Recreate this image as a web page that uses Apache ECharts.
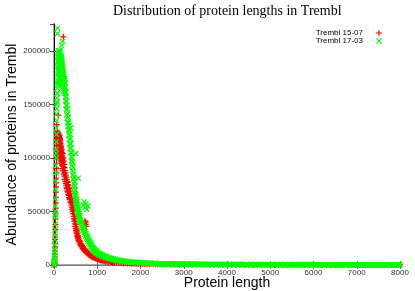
<!DOCTYPE html>
<html><head><meta charset="utf-8">
<script src="https://cdn.jsdelivr.net/npm/echarts@6/dist/echarts.min.js"></script>
<style>html,body{margin:0;padding:0;background:#fff}#c{width:415px;height:291px}</style>
</head><body><div id="c"></div>
<script>
const chartTitle = 'Distribution of protein lengths in Trembl';
const xName = 'Protein length';
const yName = 'Abundance of proteins in Trembl';
const seriesNames = ['Trembl 15-07', 'Trembl 17-03'];
const xTicks = [0, 1000, 2000, 3000, 4000, 5000, 6000, 7000, 8000];
const yTicks = [0, 50000, 100000, 150000, 200000];
const yMax = 225000;

// Trembl 15-07 : [protein length, abundance]
const trembl1507 = [
[1,50],[3,200],[5,500],[7,900],[9,1500],[11,2500],[13,3800],[15,5500],[17,7500],[19,10000],[21,13000],[23,16000],[25,20000],[27,24000],[29,28000],[31,33000],[33,38000],[35,43000],[37,48000],[39,53000],[41,58000],[43,63000],[45,68000],[47,73000],[49,77000],[51,81000],[53,86000],[55,90000],[57,95000],[59,99000],[61,103000],
[63,108000],[65,118000],[67,102000],[69,122000],[71,112000],[73,106000],[75,125000],[77,115000],[79,109000],[81,120000],[83,104000],[85,117000],[87,124000],[89,111000],[91,119000],[93,106000],[95,122000],[97,114000],[99,108000],[101,121000],[103,116000],[105,103000],[107,123000],[109,113000],[111,118000],[113,107000],[115,120000],[117,112000],[119,116000],[121,104000],[123,119000],[125,110000],[127,115000],[129,121000],[131,106000],[133,117000],[135,112000],[137,102000],[139,118000],[141,109000],[143,114000],[145,104000],[147,116000],[149,110000],[151,100000],[153,113000],[155,107000],[157,111000],[159,98000],[161,109000],[163,104000],[165,110000],[167,97000],[169,106000],[171,101000],[173,108000],[175,95000],[177,104000],[179,99000],[181,105000],[183,93000],[185,101000],[187,96000],[189,102000],[191,90000],[193,99000],[195,94000],[197,98000],[199,88000],[201,96000],
[205,104000],[210,92000],[215,100000],[220,88000],[225,97000],[230,85000],[235,94000],[240,83000],[245,91000],[250,80000],[255,88000],[260,78000],[265,86000],[270,76000],[275,84000],[280,74000],[285,82000],[290,72000],[295,80000],[300,71000],[305,78000],[310,69000],[315,77000],[320,68000],[325,75000],[330,66000],[335,74000],[340,65000],[345,72000],[350,63000],[355,71000],[360,62000],[365,69000],[370,61000],[375,67000],[380,59000],[385,66000],[390,58000],[395,64000],[400,56000],[405,62000],[410,54000],[415,60000],[420,52000],[425,58000],[430,50000],[435,56000],[440,48000],[445,53000],[450,45500],[455,51000],[460,43000],[465,48000],[470,41000],[475,45500],[480,38500],[485,43000],[490,36000],[495,40500],[500,34000],[505,38000],[510,32000],[515,35500],[520,30000],[525,33500],[530,28000],[535,31500],[540,26500],[545,29500],[550,25000],[555,27500],[560,23500],[565,26000],[570,22500],[575,24500],[580,21500],[590,23000],[600,19500],[610,21500],[620,18000],[630,19800],[640,16800],[650,18300],[660,15600],[670,17000],[680,14600],[690,15800],[700,13600],[710,14800],[720,12800],[730,13800],[740,12000],[750,13000],[760,11200],[770,12100],[780,10500],[790,11300],[800,9800],[810,10600],[820,9200],[830,9900],[840,8600],[850,9300],[860,8000],[870,8700],[880,7500],[890,8100],[900,7000],[915,7600],[930,6500],[945,7000],[960,6000],[975,6500],[990,5500],[1005,6000],[1020,5100],[1035,5500],[1050,4700],[1065,5100],[1080,4300],[1100,4700],[1120,3900],[1140,4300],[1160,3600],[1180,3900],[1200,3300],[1225,3600],[1250,3000],[1275,3300],[1300,2700],[1325,2900],[1350,2400],[1375,2600],[1400,2100],[1450,2300],[1500,1800],[1550,1900],[1600,1500],[1650,1600],[1700,1300],[1750,1400],[1800,1100],[1850,1200],[1900,1150],[1950,1000],[2000,900],[2050,980],[2100,950],[2150,820],[2200,750],[2250,850],[2300,800],[2350,700],[2400,650],[2450,720],[2500,680],[2550,600],[2600,560],[2650,620],[2700,580],[2750,520],[2800,500],[2850,540],[2900,520],[2950,470],[3000,450],[3100,470],[3200,430],[3300,400],[3400,380],[3500,390],[3600,350],[3700,340],[3800,320],[3900,330],[4000,300],[4100,290],[4200,270],[4300,280],[4400,250],[4500,240],[4600,230],[4700,220],[4800,210],[4900,200],[5000,190],[5100,180],[5200,170],[5300,165],[5400,160],[5500,150],[5600,150],[5700,140],[5800,130],[5900,125],[6000,120],[6100,115],[6200,110],[6300,105],[6400,100],[6500,95],[6600,90],[6700,85],[6800,80],[6900,75],[7000,70],[7100,65],[7200,60],[7300,58],[7400,55],[7500,52],[7600,50],[7700,48],[7800,45],[7900,42],[8000,40],
[100,140000],[64,131000],[215,213000],[715,41000],[730,38000],[745,36000],[735,40000]
];

// Trembl 17-03 : [protein length, abundance]
const trembl1703 = [
[1,100],[3,400],[5,900],[7,1800],[9,3000],[11,4500],[13,6500],[15,9000],[17,12000],[19,15000],[21,19000],[23,24000],[25,28000],[27,33000],[29,38000],[31,44000],[33,50000],[35,47000],[37,55000],[39,62000],[41,70000],[43,78000],[45,86000],[47,93000],[49,100000],[51,108000],[53,104000],[55,115000],[57,122000],[59,128000],[61,135000],[63,141000],[65,146000],[67,150000],[69,156000],[71,160000],[73,152000],[75,165000],[77,170000],
[79,178000],[81,185000],[83,160000],[85,190000],[87,172000],[89,195000],[91,182000],[93,168000],[95,198000],[97,188000],[99,176000],[101,192000],[103,184000],[105,200000],[107,170000],[109,194000],[111,186000],[113,197000],[115,178000],[117,190000],[119,199000],[121,182000],[123,193000],[125,175000],[127,196000],[129,187000],[131,200000],[133,180000],[135,192000],[137,171000],[139,197000],[141,185000],[143,193000],[145,176000],[147,199000],[149,188000],[151,182000],[153,195000],[155,173000],[157,190000],[159,184000],[161,196000],[163,178000],[165,192000],[167,186000],[169,170000],[171,194000],[173,181000],[175,189000],[177,175000],[179,193000],[181,184000],[183,168000],[185,190000],[187,179000],[189,186000],[191,172000],[193,188000],[195,181000],[197,166000],[199,185000],[201,176000],[205,183000],[209,170000],[213,180000],[217,168000],[221,178000],[225,165000],[229,176000],[233,163000],[237,174000],[241,162000],[245,172000],[249,160000],
[252,174000],[256,162000],[260,170000],[264,157000],[268,166000],[272,153000],[276,161000],[280,149000],[284,157000],[288,145000],[292,153000],[296,140000],[300,149000],[305,137000],[310,146000],[315,133000],[320,141000],[325,129000],[330,138000],[335,126000],[340,133000],[345,121000],[350,130000],[355,117000],[360,126000],[365,113000],[370,122000],[375,109000],[380,118000],[385,105000],[390,113000],[395,101000],[400,109000],[405,97000],[410,105000],[415,93000],[420,100000],[425,88000],[430,96000],[435,84000],[440,91000],[445,80000],[450,87000],[455,76000],[460,82000],[465,72000],[470,78000],[475,68000],[480,74000],[485,65000],[490,70000],[495,62000],[500,66000],[505,59000],[510,64000],[515,57000],[520,61000],[525,54000],[530,59000],[535,52000],[540,56000],[545,50000],[550,54000],[555,48000],[560,52000],[565,46000],[570,50000],[575,44000],[580,48000],[585,42000],[590,46000],[595,40500],[600,44500],[610,39000],[620,42000],[630,36500],[640,40000],[650,34500],[660,38000],[670,32500],[680,35500],[690,30500],[700,33500],[710,28500],[720,31000],[730,27000],[740,29500],[750,25000],[760,27500],[770,23500],[780,26000],[790,22000],[800,24000],[810,20500],[820,22500],[830,19000],[840,21000],[850,17500],[860,19500],[870,16000],[880,18000],[890,15000],[900,16500],[910,14000],[920,15500],[930,13000],[940,14500],[950,12200],[960,13600],[970,11500],[980,12800],[990,10900],[1000,12000],[1015,10300],[1030,11200],[1045,9600],[1060,10500],[1075,9000],[1090,9800],[1105,8400],[1120,9200],[1135,7900],[1150,8700],[1165,7400],[1180,8100],[1195,7000],[1210,7600],[1230,6500],[1250,7100],[1270,6000],[1290,6600],[1310,5600],[1330,6100],[1350,5200],[1370,5700],[1390,4800],[1410,5300],[1430,4500],[1450,4900],[1470,4200],[1490,4600],[1510,3900],[1530,4300],[1550,3600],[1575,4000],[1600,3300],[1625,3700],[1650,3100],[1675,3400],[1700,2800],[1725,3100],[1750,2600],[1775,2900],[1800,2400],[1825,2700],[1850,2600],[1875,2300],[1900,2100],[1925,2400],[1950,2300],[1975,2000],[2000,1800],[2025,2100],[2050,2000],[2075,1750],[2100,1600],[2125,1900],[2150,1800],[2175,1550],[2200,1400],[2225,1700],[2250,1550],[2275,1350],[2300,1200],[2325,1450],[2350,1350],[2375,1200],[2400,1100],[2425,1300],[2450,1200],[2475,1050],[2500,1000],[2525,1150],[2550,1100],[2575,950],[2600,900],[2625,1050],[2650,1000],[2675,880],[2700,820],[2725,950],[2750,900],[2775,800],[2800,900],[2825,760],[2850,850],[2875,720],[2900,750],[2925,830],[2950,700],[2975,780],[3000,800],
[3030,660],[3060,760],[3090,700],[3120,640],[3150,730],[3180,620],[3210,720],[3240,680],[3270,600],[3300,690],[3330,580],[3360,660],[3390,620],[3420,560],[3450,640],[3480,540],[3510,610],[3540,580],[3570,520],[3600,600],[3630,500],[3660,570],[3690,540],[3720,480],[3750,550],[3780,460],[3810,530],[3840,500],[3870,450],[3900,520],[3930,430],[3960,500],[3990,470],[4020,420],[4050,480],[4080,400],[4110,460],[4140,430],[4170,390],[4200,450],[4230,380],[4260,430],[4290,400],[4320,360],[4350,420],[4380,350],[4410,400],[4440,370],[4470,340],[4500,390],[4530,330],[4560,370],[4590,350],[4620,310],[4650,360],[4680,300],[4710,350],[4740,320],[4770,290],[4800,340],[4830,280],[4860,320],[4890,300],[4920,270],[4950,320],[4980,260],[5010,310],[5040,280],[5070,250],[5100,300],[5130,240],[5160,290],[5190,260],[5220,230],[5250,280],[5280,230],[5310,270],[5340,250],[5370,220],[5400,260],[5430,210],[5460,250],[5490,230],[5520,200],[5550,240],[5580,200],[5610,230],[5640,210],[5670,190],[5700,220],[5730,180],[5760,210],[5790,200],[5820,170],[5850,200],[5880,170],[5910,190],[5940,180],[5970,160],[6000,190],
[6030,150],[6060,180],[6090,160],[6120,140],[6150,170],[6180,140],[6210,160],[6240,150],[6270,130],[6300,160],[6330,130],[6360,150],[6390,140],[6420,120],[6450,150],[6480,120],[6510,140],[6540,130],[6570,110],[6600,140],[6630,110],[6660,130],[6690,120],[6720,100],[6750,130],[6780,100],[6810,120],[6840,110],[6870,95],[6900,120],[6930,95],[6960,110],[6990,100],[7020,90],[7050,110],[7080,85],[7110,100],[7140,95],[7170,80],[7200,100],[7230,80],[7260,95],[7290,90],[7320,75],[7350,95],[7380,75],[7410,90],[7440,85],[7470,70],[7500,90],[7530,70],[7560,85],[7590,80],[7620,65],[7650,85],[7680,65],[7710,80],[7740,75],[7770,60],[7800,80],[7830,60],[7860,75],[7890,70],[7920,55],[7950,75],[7980,55],[8000,70],
[77,216000],[80,221000],[200,209000],[175,205000],[390,128000],[505,104000],[560,81000],[680,56000],[700,59000],[720,54000],[740,57000],[760,52000],[780,55000]
];

const plusPath = 'path://M2,0H3V2H5V3H3V5H2V3H0V2H2Z';
const crossPath = 'path://M0,0.7L0.7,0L2.5,1.8L4.3,0L5,0.7L3.2,2.5L5,4.3L4.3,5L2.5,3.2L0.7,5L0,4.3L1.8,2.5Z';

const sans = 'Liberation Sans, Arial, sans-serif';
const chart = echarts.init(document.getElementById('c'), null, {renderer: 'canvas'});
const xMin = xTicks[0], xMax = xTicks[xTicks.length - 1], xInt = xTicks[1] - xTicks[0];
const yMin = yTicks[0], yInt = yTicks[1] - yTicks[0];

chart.setOption({
  animation: false,
  backgroundColor: '#fff',
  title: {
    text: chartTitle, left: 113, top: 4, padding: 0,
    textStyle: {fontFamily: 'Liberation Serif, Times New Roman, serif', fontSize: 14, fontWeight: 'normal', color: '#000'}
  },
  legend: {
    orient: 'vertical', right: 33, top: 29, padding: 0, align: 'right',
    itemWidth: 22, itemHeight: 6, itemGap: 0,
    textStyle: {fontFamily: sans, fontSize: 8, color: '#000', lineHeight: 8},
    data: seriesNames
  },
  grid: {left: 54, right: 15, top: 24, bottom: 26, outerBoundsMode: 'none', containLabel: false},
  xAxis: [{
    type: 'value', min: xMin, max: xMax, interval: xInt,
    name: xName, nameLocation: 'middle', nameGap: 11, nameMoveOverlap: false,
    nameTextStyle: {fontFamily: sans, fontSize: 14, color: '#000'},
    axisLine: {lineStyle: {color: '#8a8a8a', width: 1.5}},
    axisTick: {inside: true, length: 4, lineStyle: {color: '#666'}},
    axisLabel: {fontFamily: sans, fontSize: 8, color: '#333', margin: 4, formatter: v => String(v)},
    splitLine: {show: false}
  }, {
    type: 'value', min: xMin, max: xMax, interval: xInt, position: 'top',
    axisLine: {lineStyle: {color: '#777', width: 1}},
    axisTick: {inside: true, length: 4, lineStyle: {color: '#666'}},
    axisLabel: {show: false}, splitLine: {show: false}
  }],
  yAxis: [{
    type: 'value', min: yMin, max: yMax, interval: yInt,
    name: yName, nameLocation: 'middle', nameGap: 35, nameRotate: 90, nameMoveOverlap: false,
    nameTextStyle: {fontFamily: sans, fontSize: 14, color: '#000'},
    axisLine: {show: true, lineStyle: {color: '#8a8a8a', width: 1.5}},
    axisTick: {show: true, inside: true, length: 4, lineStyle: {color: '#666'}},
    axisLabel: {fontFamily: sans, fontSize: 8, color: '#333', margin: 4, showMaxLabel: false,
      formatter: v => (v % yInt === 0 ? String(v) : '')},
    splitLine: {show: false}
  }, {
    type: 'value', min: yMin, max: yMax, interval: yInt, position: 'right',
    axisLine: {show: true, lineStyle: {color: '#000', width: 1}},
    axisTick: {show: true, inside: true, length: 4, lineStyle: {color: '#444'}},
    axisLabel: {show: false}, splitLine: {show: false}
  }],
  series: [{
    name: seriesNames[0], type: 'scatter', xAxisIndex: 0, yAxisIndex: 0,
    symbol: plusPath, symbolSize: 6, data: trembl1507,
    itemStyle: {color: '#ff0000', opacity: 1}
  }, {
    name: seriesNames[1], type: 'scatter', xAxisIndex: 0, yAxisIndex: 0,
    symbol: crossPath, symbolSize: 6, data: trembl1703,
    itemStyle: {color: '#00ff00', opacity: 1}
  }]
});
</script>
</body></html>
